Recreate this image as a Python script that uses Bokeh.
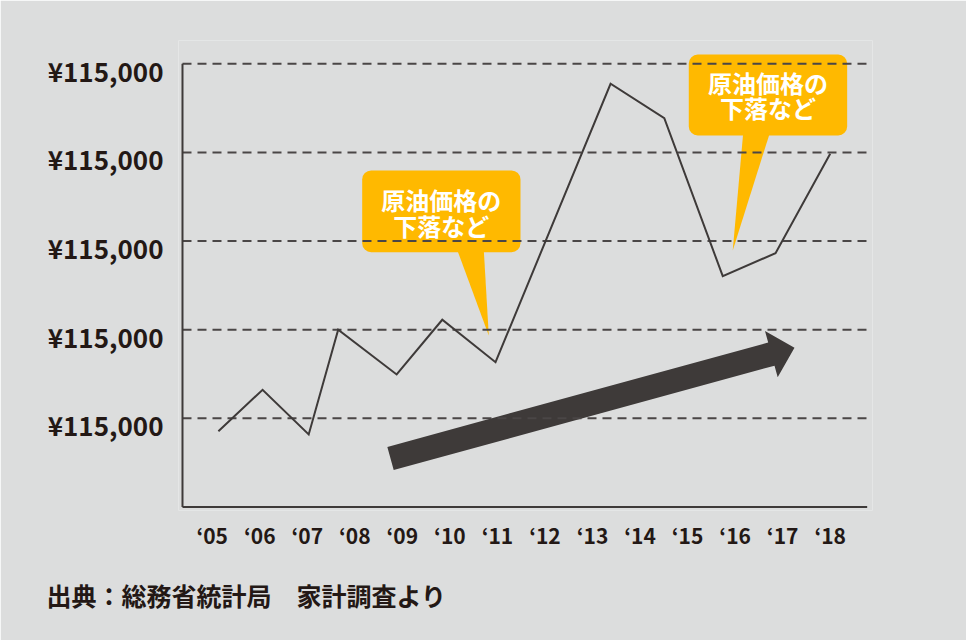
from bokeh.plotting import figure
from bokeh.models import Range1d, FixedTicker, BoxAnnotation, Title
from bokeh.embed import file_html
from bokeh.resources import INLINE
from bokeh.core.properties import value
import math

# ---------------- data ----------------
year_labels = ["\u201805", "\u201806", "\u201807", "\u201808", "\u201809", "\u201810", "\u201811",
               "\u201812", "\u201813", "\u201814", "\u201815", "\u201816", "\u201817", "\u201818"]
year_ticks = list(range(len(year_labels)))

# points as drawn (position along the year axis, value in grid units)
point_x = [0.13, 1.06, 2.03, 2.65, 3.88, 4.84, 5.96, 8.38, 9.51, 10.74, 11.85, 13.0]
point_y = [0.855, 1.322, 0.818, 1.999, 1.495, 2.112, 1.633, 4.774, 4.386, 2.604, 2.863, 3.984]

y_ticks = [1, 2, 3, 4, 5]
y_tick_labels = ["¥115,000", "¥115,000", "¥115,000", "¥115,000", "¥115,000"]

callout_lines = ["原油価格の", "下落など"]
source_text = "出典：総務省統計局　家計調査より"

# ---------------- style ----------------
BG = "#dcdddd"
INK = "#3e3a39"
GRID = "#4a4646"
TXT = "#231815"
ORANGE = "#ffb900"
FONT = "Noto Sans CJK JP"

X0, X1 = -0.709, 13.89
Y0, Y1 = -0.0395, 5.262
FW, FH = 694, 470
PXU = FW / (X1 - X0)
PYU = FH / (Y1 - Y0)

p = figure(width=966, height=640, output_backend="svg", toolbar_location=None,
           x_range=Range1d(X0, X1), y_range=Range1d(Y0, Y1),
           min_border_left=178, min_border_right=94, min_border_top=40, min_border_bottom=130)
p.background_fill_color = BG
p.border_fill_color = BG
p.outline_line_color = None
p.grid.visible = False

for ax in (p.xaxis[0], p.yaxis[0]):
    ax.axis_line_color = None
    ax.major_tick_line_color = None
    ax.minor_tick_line_color = None
    ax.major_tick_out = 0
    ax.major_tick_in = 0
    ax.major_label_text_font = FONT
    ax.major_label_text_font_style = "bold"
    ax.major_label_text_color = TXT

p.xaxis.ticker = FixedTicker(ticks=year_ticks)
p.xaxis.major_label_overrides = {t: l for t, l in zip(year_ticks, year_labels)}
p.xaxis.major_label_text_font_size = "21px"
p.xaxis.major_label_standoff = 9

# labels sit slightly below their grid lines
label_shift = 6.5 / PYU
y_label_pos = [t - label_shift for t in y_ticks]
p.yaxis.ticker = FixedTicker(ticks=y_label_pos)
p.yaxis.major_label_overrides = {t: l for t, l in zip(y_label_pos, y_tick_labels)}
p.yaxis.major_label_text_font_size = "26px"
p.yaxis.major_label_standoff = 15

AX_X = -0.625
AX_END = 13.778

# callout boxes (behind everything)
boxes = [
    dict(left=3.155, right=6.485, top=3.796, bottom=2.874,
         tail=([5.154, 5.713, 5.818], [2.90, 2.90, 1.935]), tx=4.82, ty=[3.465, 3.175]),
    dict(left=10.025, right=13.357, top=5.104, bottom=4.191,
         tail=([11.17, 11.73, 10.95], [4.22, 4.22, 2.893]), tx=11.69, ty=[4.792, 4.51]),
]
for b in boxes:
    ba = BoxAnnotation(left=b["left"], right=b["right"], top=b["top"], bottom=b["bottom"],
                       fill_color=ORANGE, fill_alpha=1.0, line_color=None, border_radius=9,
                       level="underlay")
    p.add_layout(ba)
    p.patch(b["tail"][0], b["tail"][1], fill_color=ORANGE, line_color=None)

# trend arrow
a_start = (3.751, 0.547)
a_tip = (12.249, 1.796)
shaft_w, head_w, head_len = 24.0, 48.0, 24.0
sx0, sy0 = a_start[0] * PXU, -a_start[1] * PYU
sx1, sy1 = a_tip[0] * PXU, -a_tip[1] * PYU
L = math.hypot(sx1 - sx0, sy1 - sy0)
ux, uy = (sx1 - sx0) / L, (sy1 - sy0) / L
nx, ny = -uy, ux
bx, by = sx1 - ux * head_len, sy1 - uy * head_len
pts = [
    (sx0 + nx * shaft_w / 2, sy0 + ny * shaft_w / 2),
    (bx + nx * shaft_w / 2, by + ny * shaft_w / 2),
    (bx + nx * head_w / 2, by + ny * head_w / 2),
    (sx1, sy1),
    (bx - nx * head_w / 2, by - ny * head_w / 2),
    (bx - nx * shaft_w / 2, by - ny * shaft_w / 2),
    (sx0 - nx * shaft_w / 2, sy0 - ny * shaft_w / 2),
]
p.patch([q[0] / PXU for q in pts], [-q[1] / PYU for q in pts], fill_color=INK, line_color=None)

# dashed grid lines
p.segment(x0=[AX_X] * len(y_ticks), x1=[AX_END] * len(y_ticks), y0=y_ticks, y1=y_ticks,
          line_color=GRID, line_width=2, line_dash="9 6")

# axis lines
p.segment(x0=[AX_X, AX_X], y0=[0, 0], x1=[AX_X, AX_END], y1=[max(y_ticks), 0],
          line_color=INK, line_width=2)

# series
p.line(point_x, point_y, line_color=INK, line_width=2, line_join="miter")

# callout texts
for b in boxes:
    p.text(x=[b["tx"]] * 2, y=b["ty"], text=callout_lines, text_font=value(FONT),
           text_font_size="24px", text_font_style="bold", text_color="white",
           text_align="center", text_baseline="middle")

src = Title(text=source_text, align="left", offset=-132, standoff=44,
            text_font=FONT, text_font_size="25px", text_font_style="bold", text_color=TXT)
p.add_layout(src, "below")

open("out.html", "w").write(file_html(p, INLINE))
